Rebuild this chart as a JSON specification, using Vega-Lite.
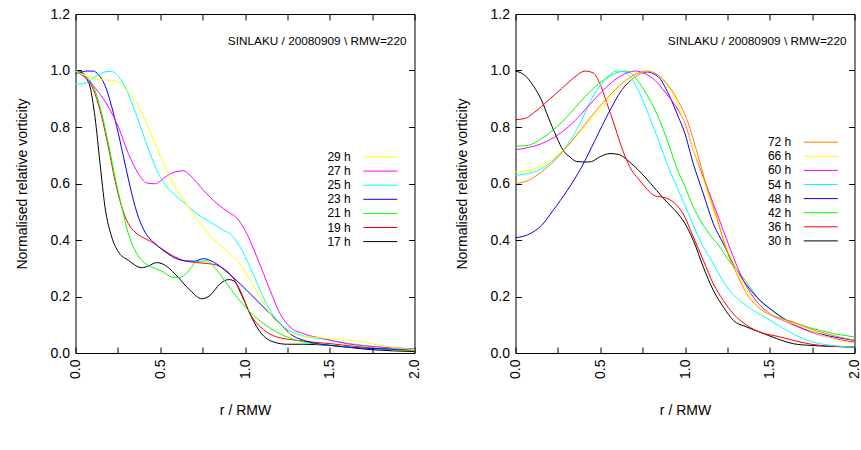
{
"$schema": "https://vega.github.io/schema/vega-lite/v6.json",
"padding": {"left": 14.5, "top": 6, "right": 5, "bottom": 5},
"background": "white",
"config": {
 "font": "Liberation Sans",
 "view": {"stroke": "black", "strokeWidth": 1},
 "axis": {"grid": false, "domain": false, "tickColor": "black", "tickSize": -6, "tickWidth": 1, "labelFont": "Liberation Sans", "labelFontSize": 14, "labelColor": "black", "titleFont": "Liberation Sans", "titleFontSize": 14, "titleFontWeight": "normal", "titleColor": "black", "labelFlush": false, "labelOverlap": false, "labelBound": false},
 "legend": {"title": null, "orient": "none", "symbolType": "M-5,0H5", "symbolSize": 46.2, "symbolStrokeWidth": 1.2, "symbolFillColor": "transparent", "labelAlign": "right", "labelOffset": -35.5, "labelFontSize": 12, "labelFont": "Liberation Sans", "labelColor": "black", "rowPadding": 2.1, "padding": 0},
 "title": {"font": "Liberation Sans", "fontSize": 11.8, "fontWeight": "normal", "color": "black", "anchor": "end", "frame": "group", "offset": -41, "dx": -8},
 "line": {"strokeWidth": 1, "interpolate": "monotone"}
},
"datasets": {
"left": [
{"s":"17 h","r":0,"v":1.0},{"s":"17 h","r":0.03,"v":0.997},{"s":"17 h","r":0.06,"v":0.975},{"s":"17 h","r":0.086,"v":0.942},{"s":"17 h","r":0.115,"v":0.835},{"s":"17 h","r":0.145,"v":0.67},{"s":"17 h","r":0.174,"v":0.517},{"s":"17 h","r":0.214,"v":0.41},{"s":"17 h","r":0.253,"v":0.358},{"s":"17 h","r":0.312,"v":0.328},{"s":"17 h","r":0.391,"v":0.302},{"s":"17 h","r":0.43,"v":0.308},{"s":"17 h","r":0.479,"v":0.32},{"s":"17 h","r":0.53,"v":0.31},{"s":"17 h","r":0.588,"v":0.279},{"s":"17 h","r":0.676,"v":0.222},{"s":"17 h","r":0.745,"v":0.192},{"s":"17 h","r":0.794,"v":0.204},{"s":"17 h","r":0.853,"v":0.245},{"s":"17 h","r":0.903,"v":0.26},{"s":"17 h","r":0.935,"v":0.255},{"s":"17 h","r":0.98,"v":0.205},{"s":"17 h","r":1.04,"v":0.125},{"s":"17 h","r":1.095,"v":0.07},{"s":"17 h","r":1.168,"v":0.039},{"s":"17 h","r":1.25,"v":0.031},{"s":"17 h","r":1.345,"v":0.031},{"s":"17 h","r":1.5,"v":0.027},{"s":"17 h","r":1.74,"v":0.012},{"s":"17 h","r":2.0,"v":0.005},
{"s":"19 h","r":0,"v":1.0},{"s":"19 h","r":0.03,"v":0.99},{"s":"19 h","r":0.076,"v":0.965},{"s":"19 h","r":0.115,"v":0.918},{"s":"19 h","r":0.155,"v":0.835},{"s":"19 h","r":0.194,"v":0.729},{"s":"19 h","r":0.233,"v":0.611},{"s":"19 h","r":0.273,"v":0.517},{"s":"19 h","r":0.312,"v":0.458},{"s":"19 h","r":0.351,"v":0.428},{"s":"19 h","r":0.391,"v":0.411},{"s":"19 h","r":0.45,"v":0.393},{"s":"19 h","r":0.509,"v":0.369},{"s":"19 h","r":0.568,"v":0.346},{"s":"19 h","r":0.647,"v":0.326},{"s":"19 h","r":0.735,"v":0.319},{"s":"19 h","r":0.814,"v":0.314},{"s":"19 h","r":0.883,"v":0.295},{"s":"19 h","r":0.925,"v":0.27},{"s":"19 h","r":0.971,"v":0.222},{"s":"19 h","r":1.03,"v":0.139},{"s":"19 h","r":1.109,"v":0.083},{"s":"19 h","r":1.187,"v":0.057},{"s":"19 h","r":1.305,"v":0.045},{"s":"19 h","r":1.502,"v":0.033},{"s":"19 h","r":1.797,"v":0.015},{"s":"19 h","r":2.0,"v":0.009},
{"s":"21 h","r":0,"v":1.0},{"s":"21 h","r":0.04,"v":0.99},{"s":"21 h","r":0.076,"v":0.971},{"s":"21 h","r":0.115,"v":0.93},{"s":"21 h","r":0.155,"v":0.847},{"s":"21 h","r":0.194,"v":0.741},{"s":"21 h","r":0.233,"v":0.623},{"s":"21 h","r":0.273,"v":0.517},{"s":"21 h","r":0.312,"v":0.422},{"s":"21 h","r":0.351,"v":0.363},{"s":"21 h","r":0.391,"v":0.328},{"s":"21 h","r":0.45,"v":0.304},{"s":"21 h","r":0.509,"v":0.29},{"s":"21 h","r":0.568,"v":0.269},{"s":"21 h","r":0.607,"v":0.267},{"s":"21 h","r":0.647,"v":0.278},{"s":"21 h","r":0.68,"v":0.3},{"s":"21 h","r":0.716,"v":0.324},{"s":"21 h","r":0.775,"v":0.326},{"s":"21 h","r":0.834,"v":0.293},{"s":"21 h","r":0.893,"v":0.245},{"s":"21 h","r":0.952,"v":0.198},{"s":"21 h","r":1.03,"v":0.145},{"s":"21 h","r":1.109,"v":0.104},{"s":"21 h","r":1.207,"v":0.068},{"s":"21 h","r":1.305,"v":0.045},{"s":"21 h","r":1.502,"v":0.027},{"s":"21 h","r":1.699,"v":0.018},{"s":"21 h","r":2.0,"v":0.009},
{"s":"23 h","r":0,"v":0.99},{"s":"23 h","r":0.03,"v":0.993},{"s":"23 h","r":0.06,"v":0.998},{"s":"23 h","r":0.105,"v":0.998},{"s":"23 h","r":0.135,"v":0.985},{"s":"23 h","r":0.174,"v":0.947},{"s":"23 h","r":0.214,"v":0.871},{"s":"23 h","r":0.253,"v":0.776},{"s":"23 h","r":0.292,"v":0.67},{"s":"23 h","r":0.332,"v":0.564},{"s":"23 h","r":0.371,"v":0.481},{"s":"23 h","r":0.41,"v":0.428},{"s":"23 h","r":0.47,"v":0.387},{"s":"23 h","r":0.529,"v":0.358},{"s":"23 h","r":0.588,"v":0.336},{"s":"23 h","r":0.647,"v":0.326},{"s":"23 h","r":0.7,"v":0.325},{"s":"23 h","r":0.755,"v":0.334},{"s":"23 h","r":0.814,"v":0.322},{"s":"23 h","r":0.893,"v":0.287},{"s":"23 h","r":0.971,"v":0.245},{"s":"23 h","r":1.05,"v":0.198},{"s":"23 h","r":1.148,"v":0.139},{"s":"23 h","r":1.227,"v":0.092},{"s":"23 h","r":1.266,"v":0.068},{"s":"23 h","r":1.345,"v":0.045},{"s":"23 h","r":1.502,"v":0.027},{"s":"23 h","r":1.797,"v":0.015},{"s":"23 h","r":2.0,"v":0.013},
{"s":"25 h","r":0,"v":0.951},{"s":"25 h","r":0.06,"v":0.955},{"s":"25 h","r":0.115,"v":0.977},{"s":"25 h","r":0.174,"v":0.995},{"s":"25 h","r":0.21,"v":0.997},{"s":"25 h","r":0.243,"v":0.986},{"s":"25 h","r":0.292,"v":0.942},{"s":"25 h","r":0.342,"v":0.871},{"s":"25 h","r":0.391,"v":0.788},{"s":"25 h","r":0.44,"v":0.706},{"s":"25 h","r":0.489,"v":0.635},{"s":"25 h","r":0.539,"v":0.588},{"s":"25 h","r":0.588,"v":0.558},{"s":"25 h","r":0.647,"v":0.529},{"s":"25 h","r":0.716,"v":0.493},{"s":"25 h","r":0.794,"v":0.464},{"s":"25 h","r":0.873,"v":0.434},{"s":"25 h","r":0.912,"v":0.422},{"s":"25 h","r":0.971,"v":0.375},{"s":"25 h","r":1.03,"v":0.304},{"s":"25 h","r":1.089,"v":0.222},{"s":"25 h","r":1.148,"v":0.151},{"s":"25 h","r":1.207,"v":0.104},{"s":"25 h","r":1.305,"v":0.068},{"s":"25 h","r":1.502,"v":0.045},{"s":"25 h","r":1.699,"v":0.027},{"s":"25 h","r":2.0,"v":0.015},
{"s":"27 h","r":0,"v":0.998},{"s":"27 h","r":0.076,"v":0.965},{"s":"27 h","r":0.135,"v":0.924},{"s":"27 h","r":0.194,"v":0.871},{"s":"27 h","r":0.253,"v":0.8},{"s":"27 h","r":0.312,"v":0.706},{"s":"27 h","r":0.371,"v":0.635},{"s":"27 h","r":0.42,"v":0.602},{"s":"27 h","r":0.47,"v":0.599},{"s":"27 h","r":0.529,"v":0.623},{"s":"27 h","r":0.588,"v":0.641},{"s":"27 h","r":0.637,"v":0.645},{"s":"27 h","r":0.676,"v":0.629},{"s":"27 h","r":0.755,"v":0.576},{"s":"27 h","r":0.834,"v":0.529},{"s":"27 h","r":0.912,"v":0.495},{"s":"27 h","r":0.952,"v":0.478},{"s":"27 h","r":1.001,"v":0.434},{"s":"27 h","r":1.07,"v":0.34},{"s":"27 h","r":1.148,"v":0.222},{"s":"27 h","r":1.207,"v":0.139},{"s":"27 h","r":1.266,"v":0.092},{"s":"27 h","r":1.345,"v":0.068},{"s":"27 h","r":1.463,"v":0.051},{"s":"27 h","r":1.601,"v":0.033},{"s":"27 h","r":1.797,"v":0.021},{"s":"27 h","r":2.0,"v":0.015},
{"s":"29 h","r":0,"v":0.998},{"s":"29 h","r":0.076,"v":0.977},{"s":"29 h","r":0.135,"v":0.968},{"s":"29 h","r":0.214,"v":0.965},{"s":"29 h","r":0.253,"v":0.959},{"s":"29 h","r":0.292,"v":0.936},{"s":"29 h","r":0.351,"v":0.894},{"s":"29 h","r":0.41,"v":0.824},{"s":"29 h","r":0.47,"v":0.741},{"s":"29 h","r":0.529,"v":0.658},{"s":"29 h","r":0.588,"v":0.588},{"s":"29 h","r":0.647,"v":0.534},{"s":"29 h","r":0.696,"v":0.493},{"s":"29 h","r":0.775,"v":0.428},{"s":"29 h","r":0.853,"v":0.381},{"s":"29 h","r":0.912,"v":0.352},{"s":"29 h","r":0.971,"v":0.316},{"s":"29 h","r":1.03,"v":0.257},{"s":"29 h","r":1.089,"v":0.198},{"s":"29 h","r":1.148,"v":0.139},{"s":"29 h","r":1.207,"v":0.092},{"s":"29 h","r":1.305,"v":0.063},{"s":"29 h","r":1.502,"v":0.051},{"s":"29 h","r":1.699,"v":0.039},{"s":"29 h","r":1.797,"v":0.027},{"s":"29 h","r":2.0,"v":0.012}
],
"right": [
{"s":"30 h","r":0,"v":0.998},{"s":"30 h","r":0.055,"v":0.983},{"s":"30 h","r":0.104,"v":0.947},{"s":"30 h","r":0.154,"v":0.894},{"s":"30 h","r":0.193,"v":0.835},{"s":"30 h","r":0.242,"v":0.765},{"s":"30 h","r":0.281,"v":0.717},{"s":"30 h","r":0.321,"v":0.694},{"s":"30 h","r":0.36,"v":0.678},{"s":"30 h","r":0.42,"v":0.676},{"s":"30 h","r":0.449,"v":0.678},{"s":"30 h","r":0.5,"v":0.695},{"s":"30 h","r":0.557,"v":0.706},{"s":"30 h","r":0.606,"v":0.703},{"s":"30 h","r":0.685,"v":0.67},{"s":"30 h","r":0.764,"v":0.623},{"s":"30 h","r":0.833,"v":0.575},{"s":"30 h","r":0.892,"v":0.535},{"s":"30 h","r":0.941,"v":0.505},{"s":"30 h","r":1.0,"v":0.458},{"s":"30 h","r":1.049,"v":0.399},{"s":"30 h","r":1.108,"v":0.304},{"s":"30 h","r":1.167,"v":0.222},{"s":"30 h","r":1.226,"v":0.163},{"s":"30 h","r":1.285,"v":0.116},{"s":"30 h","r":1.364,"v":0.092},{"s":"30 h","r":1.442,"v":0.074},{"s":"30 h","r":1.541,"v":0.051},{"s":"30 h","r":1.639,"v":0.033},{"s":"30 h","r":1.737,"v":0.027},{"s":"30 h","r":1.836,"v":0.024},{"s":"30 h","r":2.0,"v":0.021},
{"s":"36 h","r":0,"v":0.826},{"s":"36 h","r":0.055,"v":0.83},{"s":"36 h","r":0.114,"v":0.853},{"s":"36 h","r":0.193,"v":0.894},{"s":"36 h","r":0.272,"v":0.936},{"s":"36 h","r":0.35,"v":0.977},{"s":"36 h","r":0.409,"v":0.998},{"s":"36 h","r":0.459,"v":0.991},{"s":"36 h","r":0.498,"v":0.953},{"s":"36 h","r":0.537,"v":0.888},{"s":"36 h","r":0.587,"v":0.8},{"s":"36 h","r":0.636,"v":0.712},{"s":"36 h","r":0.685,"v":0.647},{"s":"36 h","r":0.724,"v":0.617},{"s":"36 h","r":0.764,"v":0.588},{"s":"36 h","r":0.823,"v":0.556},{"s":"36 h","r":0.882,"v":0.55},{"s":"36 h","r":0.931,"v":0.534},{"s":"36 h","r":0.989,"v":0.493},{"s":"36 h","r":1.049,"v":0.411},{"s":"36 h","r":1.108,"v":0.328},{"s":"36 h","r":1.167,"v":0.245},{"s":"36 h","r":1.226,"v":0.186},{"s":"36 h","r":1.285,"v":0.139},{"s":"36 h","r":1.364,"v":0.098},{"s":"36 h","r":1.442,"v":0.074},{"s":"36 h","r":1.56,"v":0.057},{"s":"36 h","r":1.678,"v":0.039},{"s":"36 h","r":1.796,"v":0.027},{"s":"36 h","r":2.0,"v":0.021},
{"s":"42 h","r":0,"v":0.732},{"s":"42 h","r":0.075,"v":0.735},{"s":"42 h","r":0.154,"v":0.759},{"s":"42 h","r":0.232,"v":0.794},{"s":"42 h","r":0.311,"v":0.841},{"s":"42 h","r":0.39,"v":0.894},{"s":"42 h","r":0.469,"v":0.942},{"s":"42 h","r":0.547,"v":0.977},{"s":"42 h","r":0.606,"v":0.994},{"s":"42 h","r":0.646,"v":0.998},{"s":"42 h","r":0.685,"v":0.989},{"s":"42 h","r":0.734,"v":0.953},{"s":"42 h","r":0.783,"v":0.906},{"s":"42 h","r":0.843,"v":0.835},{"s":"42 h","r":0.902,"v":0.741},{"s":"42 h","r":0.961,"v":0.64},{"s":"42 h","r":0.995,"v":0.595},{"s":"42 h","r":1.049,"v":0.517},{"s":"42 h","r":1.128,"v":0.434},{"s":"42 h","r":1.206,"v":0.375},{"s":"42 h","r":1.265,"v":0.322},{"s":"42 h","r":1.324,"v":0.281},{"s":"42 h","r":1.383,"v":0.234},{"s":"42 h","r":1.442,"v":0.186},{"s":"42 h","r":1.501,"v":0.157},{"s":"42 h","r":1.58,"v":0.122},{"s":"42 h","r":1.659,"v":0.104},{"s":"42 h","r":1.757,"v":0.086},{"s":"42 h","r":1.836,"v":0.074},{"s":"42 h","r":2.0,"v":0.057},
{"s":"48 h","r":0,"v":0.408},{"s":"48 h","r":0.085,"v":0.422},{"s":"48 h","r":0.154,"v":0.452},{"s":"48 h","r":0.222,"v":0.505},{"s":"48 h","r":0.306,"v":0.576},{"s":"48 h","r":0.39,"v":0.658},{"s":"48 h","r":0.469,"v":0.753},{"s":"48 h","r":0.547,"v":0.847},{"s":"48 h","r":0.626,"v":0.93},{"s":"48 h","r":0.705,"v":0.977},{"s":"48 h","r":0.774,"v":0.995},{"s":"48 h","r":0.843,"v":0.977},{"s":"48 h","r":0.902,"v":0.918},{"s":"48 h","r":0.961,"v":0.835},{"s":"48 h","r":0.995,"v":0.785},{"s":"48 h","r":1.049,"v":0.67},{"s":"48 h","r":1.108,"v":0.564},{"s":"48 h","r":1.167,"v":0.458},{"s":"48 h","r":1.226,"v":0.387},{"s":"48 h","r":1.285,"v":0.316},{"s":"48 h","r":1.344,"v":0.257},{"s":"48 h","r":1.423,"v":0.198},{"s":"48 h","r":1.501,"v":0.157},{"s":"48 h","r":1.6,"v":0.116},{"s":"48 h","r":1.698,"v":0.086},{"s":"48 h","r":1.796,"v":0.068},{"s":"48 h","r":2.0,"v":0.045},
{"s":"54 h","r":0,"v":0.629},{"s":"54 h","r":0.075,"v":0.635},{"s":"54 h","r":0.154,"v":0.652},{"s":"54 h","r":0.232,"v":0.688},{"s":"54 h","r":0.291,"v":0.725},{"s":"54 h","r":0.331,"v":0.76},{"s":"54 h","r":0.39,"v":0.824},{"s":"54 h","r":0.449,"v":0.9},{"s":"54 h","r":0.508,"v":0.953},{"s":"54 h","r":0.557,"v":0.986},{"s":"54 h","r":0.596,"v":0.998},{"s":"54 h","r":0.646,"v":0.995},{"s":"54 h","r":0.685,"v":0.971},{"s":"54 h","r":0.734,"v":0.918},{"s":"54 h","r":0.783,"v":0.847},{"s":"54 h","r":0.843,"v":0.753},{"s":"54 h","r":0.902,"v":0.658},{"s":"54 h","r":0.97,"v":0.564},{"s":"54 h","r":1.029,"v":0.481},{"s":"54 h","r":1.088,"v":0.399},{"s":"54 h","r":1.167,"v":0.316},{"s":"54 h","r":1.246,"v":0.234},{"s":"54 h","r":1.324,"v":0.186},{"s":"54 h","r":1.403,"v":0.151},{"s":"54 h","r":1.501,"v":0.116},{"s":"54 h","r":1.6,"v":0.08},{"s":"54 h","r":1.698,"v":0.051},{"s":"54 h","r":1.796,"v":0.033},{"s":"54 h","r":2.0,"v":0.021},
{"s":"60 h","r":0,"v":0.72},{"s":"60 h","r":0.075,"v":0.727},{"s":"60 h","r":0.154,"v":0.741},{"s":"60 h","r":0.232,"v":0.765},{"s":"60 h","r":0.311,"v":0.8},{"s":"60 h","r":0.39,"v":0.847},{"s":"60 h","r":0.469,"v":0.9},{"s":"60 h","r":0.547,"v":0.947},{"s":"60 h","r":0.626,"v":0.983},{"s":"60 h","r":0.705,"v":0.998},{"s":"60 h","r":0.764,"v":0.989},{"s":"60 h","r":0.823,"v":0.965},{"s":"60 h","r":0.882,"v":0.924},{"s":"60 h","r":0.961,"v":0.859},{"s":"60 h","r":0.995,"v":0.82},{"s":"60 h","r":1.049,"v":0.717},{"s":"60 h","r":1.108,"v":0.623},{"s":"60 h","r":1.167,"v":0.529},{"s":"60 h","r":1.226,"v":0.434},{"s":"60 h","r":1.285,"v":0.34},{"s":"60 h","r":1.344,"v":0.257},{"s":"60 h","r":1.403,"v":0.198},{"s":"60 h","r":1.501,"v":0.139},{"s":"60 h","r":1.6,"v":0.11},{"s":"60 h","r":1.718,"v":0.08},{"s":"60 h","r":1.836,"v":0.057},{"s":"60 h","r":2.0,"v":0.039},
{"s":"66 h","r":0,"v":0.641},{"s":"66 h","r":0.075,"v":0.647},{"s":"66 h","r":0.154,"v":0.664},{"s":"66 h","r":0.232,"v":0.694},{"s":"66 h","r":0.311,"v":0.735},{"s":"66 h","r":0.39,"v":0.788},{"s":"66 h","r":0.469,"v":0.841},{"s":"66 h","r":0.547,"v":0.894},{"s":"66 h","r":0.626,"v":0.942},{"s":"66 h","r":0.705,"v":0.977},{"s":"66 h","r":0.774,"v":0.998},{"s":"66 h","r":0.843,"v":0.983},{"s":"66 h","r":0.902,"v":0.942},{"s":"66 h","r":0.961,"v":0.873},{"s":"66 h","r":1.009,"v":0.79},{"s":"66 h","r":1.068,"v":0.682},{"s":"66 h","r":1.128,"v":0.576},{"s":"66 h","r":1.187,"v":0.47},{"s":"66 h","r":1.246,"v":0.375},{"s":"66 h","r":1.305,"v":0.293},{"s":"66 h","r":1.364,"v":0.222},{"s":"66 h","r":1.442,"v":0.163},{"s":"66 h","r":1.541,"v":0.127},{"s":"66 h","r":1.639,"v":0.104},{"s":"66 h","r":1.737,"v":0.08},{"s":"66 h","r":1.836,"v":0.057},{"s":"66 h","r":2.0,"v":0.033},
{"s":"72 h","r":0,"v":0.599},{"s":"72 h","r":0.075,"v":0.611},{"s":"72 h","r":0.154,"v":0.641},{"s":"72 h","r":0.232,"v":0.682},{"s":"72 h","r":0.311,"v":0.735},{"s":"72 h","r":0.39,"v":0.794},{"s":"72 h","r":0.469,"v":0.853},{"s":"72 h","r":0.547,"v":0.906},{"s":"72 h","r":0.626,"v":0.953},{"s":"72 h","r":0.705,"v":0.986},{"s":"72 h","r":0.774,"v":0.998},{"s":"72 h","r":0.843,"v":0.983},{"s":"72 h","r":0.902,"v":0.947},{"s":"72 h","r":0.961,"v":0.89},{"s":"72 h","r":1.009,"v":0.83},{"s":"72 h","r":1.068,"v":0.717},{"s":"72 h","r":1.128,"v":0.588},{"s":"72 h","r":1.187,"v":0.481},{"s":"72 h","r":1.246,"v":0.363},{"s":"72 h","r":1.305,"v":0.281},{"s":"72 h","r":1.364,"v":0.21},{"s":"72 h","r":1.442,"v":0.157},{"s":"72 h","r":1.541,"v":0.127},{"s":"72 h","r":1.639,"v":0.11},{"s":"72 h","r":1.737,"v":0.086},{"s":"72 h","r":1.836,"v":0.068},{"s":"72 h","r":2.0,"v":0.045}
]
},
"bounds": "flush",
"spacing": 101,
"resolve": {"scale": {"color": "independent"}, "legend": {"color": "independent"}},
"hconcat": [
{
 "width": 339, "height": 339,
 "data": {"name": "left"},
 "title": {"text": "SINLAKU / 20080909 \\ RMW=220"},
 "layer": [
  {"mark": {"type": "line"},
   "encoding": {
    "x": {"field": "r", "type": "quantitative", "scale": {"domain": [0, 2], "nice": false, "zero": false}, "axis": {"orient": "bottom", "title": "r / RMW", "values": [0,0.25,0.5,0.75,1,1.25,1.5,1.75,2], "labelExpr": "(datum.value * 4) % 2 == 0 ? format(datum.value, '.1f') : ''", "labelAngle": 270, "labelPadding": 12, "titlePadding": 25}},
    "y": {"field": "v", "type": "quantitative", "scale": {"domain": [0, 1.2], "nice": false, "zero": false}, "axis": {"orient": "left", "title": "Normalised relative vorticity", "values": [0,0.2,0.4,0.6,0.8,1.0,1.2], "format": ".1f", "labelPadding": 12, "titlePadding": 21}},
    "color": {"field": "s", "type": "nominal", "scale": {"domain": ["29 h","27 h","25 h","23 h","21 h","19 h","17 h"], "range": ["#ffff00","#ff00ff","#00ffff","#0000ff","#00ff00","#ff0000","#000000"]}, "legend": {"legendX": 298.8, "legendY": 137}}
   }},
  {"mark": {"type": "line", "strokeOpacity": 0},
   "encoding": {
    "x": {"field": "r", "type": "quantitative", "scale": {"domain": [0, 2], "nice": false, "zero": false}, "axis": {"orient": "top", "labels": false, "title": null, "values": [0,0.25,0.5,0.75,1,1.25,1.5,1.75,2]}},
    "y": {"field": "v", "type": "quantitative", "scale": {"domain": [0, 1.2], "nice": false, "zero": false}, "axis": {"orient": "right", "labels": false, "title": null, "values": [0,0.2,0.4,0.6,0.8,1.0,1.2]}},
    "detail": {"field": "s"}
   }}
 ],
 "resolve": {"axis": {"x": "independent", "y": "independent"}}
},
{
 "width": 339, "height": 339,
 "data": {"name": "right"},
 "title": {"text": "SINLAKU / 20080909 \\ RMW=220"},
 "layer": [
  {"mark": {"type": "line"},
   "encoding": {
    "x": {"field": "r", "type": "quantitative", "scale": {"domain": [0, 2], "nice": false, "zero": false}, "axis": {"orient": "bottom", "title": "r / RMW", "values": [0,0.25,0.5,0.75,1,1.25,1.5,1.75,2], "labelExpr": "(datum.value * 4) % 2 == 0 ? format(datum.value, '.1f') : ''", "labelAngle": 270, "labelPadding": 12, "titlePadding": 25}},
    "y": {"field": "v", "type": "quantitative", "scale": {"domain": [0, 1.2], "nice": false, "zero": false}, "axis": {"orient": "left", "title": "Normalised relative vorticity", "values": [0,0.2,0.4,0.6,0.8,1.0,1.2], "format": ".1f", "labelPadding": 12, "titlePadding": 21}},
    "color": {"field": "s", "type": "nominal", "scale": {"domain": ["72 h","66 h","60 h","54 h","48 h","42 h","36 h","30 h"], "range": ["#ff8000","#ffff00","#ff00ff","#00ffff","#0000ff","#00ff00","#ff0000","#000000"]}, "legend": {"legendX": 299.3, "legendY": 122.2}}
   }},
  {"mark": {"type": "line", "strokeOpacity": 0},
   "encoding": {
    "x": {"field": "r", "type": "quantitative", "scale": {"domain": [0, 2], "nice": false, "zero": false}, "axis": {"orient": "top", "labels": false, "title": null, "values": [0,0.25,0.5,0.75,1,1.25,1.5,1.75,2]}},
    "y": {"field": "v", "type": "quantitative", "scale": {"domain": [0, 1.2], "nice": false, "zero": false}, "axis": {"orient": "right", "labels": false, "title": null, "values": [0,0.2,0.4,0.6,0.8,1.0,1.2]}},
    "detail": {"field": "s"}
   }}
 ],
 "resolve": {"axis": {"x": "independent", "y": "independent"}}
}
]
}
